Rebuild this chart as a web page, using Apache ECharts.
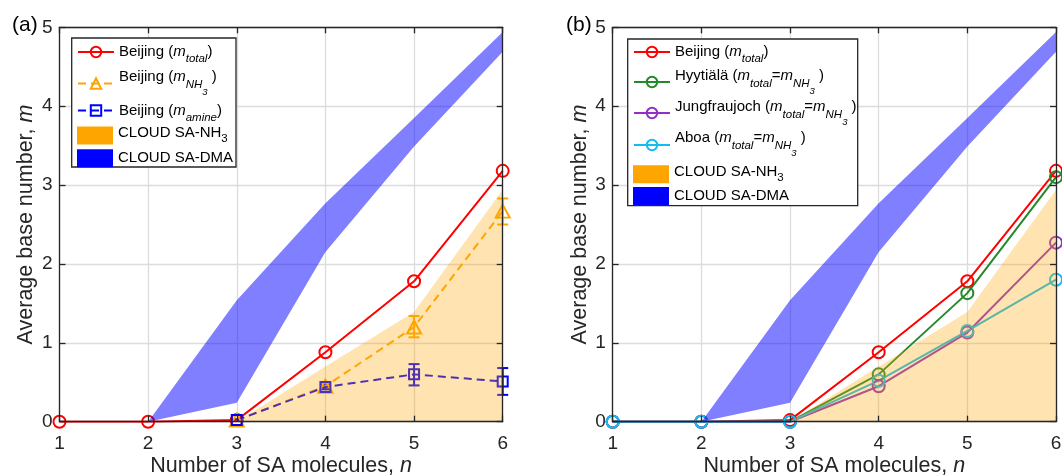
<!DOCTYPE html>
<html>
<head>
<meta charset="utf-8">
<script src="https://cdn.jsdelivr.net/npm/echarts@6/dist/echarts.min.js"></script>
<style>
  html, body { margin: 0; padding: 0; background: #fff; }
  #chart { width: 1062px; height: 475px; }
</style>
</head>
<body>
<div id="chart"></div>
<script>
// data
const cats = ['1', '2', '3', '4', '5', '6'];
const beijingTotal = [0, 0, 0.02, 0.88, 1.78, 3.18];
const beijingNH3 = [null, null, 0.02, 0.45, 1.2, 2.67];
const nh3Low = [null, null, 0.01, 0.42, 1.07, 2.5];
const nh3High = [null, null, 0.03, 0.48, 1.34, 2.83];
const beijingAmine = [null, null, 0.02, 0.44, 0.6, 0.51];
const amineLow = [null, null, 0.01, 0.41, 0.46, 0.34];
const amineHigh = [null, null, 0.03, 0.47, 0.73, 0.68];
const hyytiala = [0, 0, 0, 0.6, 1.63, 3.1];
const jungfraujoch = [0, 0, 0, 0.45, 1.13, 2.27];
const aboa = [0, 0, 0, 0.52, 1.15, 1.8];
const cloudNH3Upper = [null, null, 0, 0.7, 1.39, 2.94];
const cloudDMALower = [null, 0, 0.24, 2.15, 3.49, 4.69];
const cloudDMAUpper = [null, 0, 1.54, 2.77, 3.85, 4.94];
const yTicks = { min: 0, max: 5, interval: 1 };

const FONT = "'Liberation Sans', Arial, Helvetica, sans-serif";
const AX = '#262626';
const GRIDC = '#dcdcdc';

const chart = echarts.init(document.getElementById('chart'));

// ---- axes (one set per panel: labelled axes, box axes, split lines) ----
function xAxes(gi) {
  const base = { gridIndex: gi, type: 'category', data: cats, boundaryGap: false };
  const line = { onZero: false, lineStyle: { color: AX, width: 1.3 } };
  const tick = { inside: true, length: 6, interval: 0, lineStyle: { color: AX, width: 1.3 } };
  return [
    Object.assign({}, base, {
      position: 'bottom', z: 10, axisLine: line, axisTick: tick,
      axisLabel: { interval: 0, margin: 13, fontSize: 19, color: AX, fontFamily: FONT },
      splitLine: { show: false },
      name: '{t|Number of SA molecules, }{i|n}', nameLocation: 'middle', nameGap: 33,
      nameMoveOverlap: false,
      nameTextStyle: { rich: {
        t: { fontSize: 21.5, color: AX, fontFamily: FONT },
        i: { fontSize: 21.5, color: AX, fontFamily: FONT, fontStyle: 'italic' }
      } }
    }),
    Object.assign({}, base, {
      position: 'top', z: 10, axisLine: line, axisTick: tick,
      axisLabel: { show: false }, splitLine: { show: false }
    }),
    Object.assign({}, base, {
      position: 'bottom', z: 0, axisLine: { show: false, onZero: false }, axisTick: { show: false },
      axisLabel: { show: false },
      splitLine: { show: true, interval: 0, lineStyle: { color: GRIDC, width: 1.3 } }
    })
  ];
}
function yAxes(gi) {
  const base = Object.assign({ gridIndex: gi, type: 'value' }, yTicks);
  const line = { show: true, onZero: false, lineStyle: { color: AX, width: 1.3 } };
  const tick = { show: true, inside: true, length: 6, lineStyle: { color: AX, width: 1.3 } };
  return [
    Object.assign({}, base, {
      position: 'left', z: 10, axisLine: line, axisTick: tick,
      axisLabel: { margin: 7, fontSize: 19, color: AX, fontFamily: FONT },
      splitLine: { show: false },
      name: '{t|Average base number, }{i|m}', nameLocation: 'middle', nameGap: 22,
      nameTextStyle: { rich: {
        t: { fontSize: 21.5, color: AX, fontFamily: FONT },
        i: { fontSize: 21.5, color: AX, fontFamily: FONT, fontStyle: 'italic' }
      } }
    }),
    Object.assign({}, base, {
      position: 'right', z: 10, axisLine: line, axisTick: tick,
      axisLabel: { show: false }, splitLine: { show: false }
    }),
    Object.assign({}, base, {
      position: 'left', z: 0, axisLine: { show: false, onZero: false }, axisTick: { show: false },
      axisLabel: { show: false },
      splitLine: { show: true, lineStyle: { color: GRIDC, width: 1.3 } }
    })
  ];
}

// ---- series helpers ----
function lineSeries(name, data, color, ai, opts) {
  opts = opts || {};
  return {
    name: name, type: 'line', xAxisIndex: ai, yAxisIndex: ai, data: data, z: 2,
    symbol: opts.symbol || 'circle', symbolSize: opts.size || 12,
    itemStyle: { color: 'rgba(0,0,0,0)', borderColor: color, borderWidth: 2 },
    lineStyle: { color: color, width: 2, type: opts.dash || 'solid' },
    emphasis: { disabled: true }
  };
}
function errorBars(lo, hi, color, ai) {
  return {
    type: 'custom', xAxisIndex: ai, yAxisIndex: ai, z: 2, silent: true,
    data: cats.map((c, i) => [c, lo[i], hi[i]]).filter(d => d[1] != null),
    encode: { x: 0, y: [1, 2] },
    renderItem: function (params, api) {
      const x = api.value(0);
      const p1 = api.coord([x, api.value(1)]);
      const p2 = api.coord([x, api.value(2)]);
      const w = 5.5;
      const style = { stroke: color, lineWidth: 2 };
      return { type: 'group', children: [
        { type: 'line', shape: { x1: p1[0], y1: p1[1], x2: p2[0], y2: p2[1] }, style: style },
        { type: 'line', shape: { x1: p1[0] - w, y1: p1[1], x2: p1[0] + w, y2: p1[1] }, style: style },
        { type: 'line', shape: { x1: p2[0] - w, y1: p2[1], x2: p2[0] + w, y2: p2[1] }, style: style }
      ] };
    }
  };
}
function cloudSeries(ai) {
  const dmaWidth = cloudDMAUpper.map((v, i) => v == null ? null : v - cloudDMALower[i]);
  return [
    {
      name: 'CLOUD SA-NH3', type: 'line', xAxisIndex: ai, yAxisIndex: ai, data: cloudNH3Upper, z: 3,
      symbol: 'none', silent: true, itemStyle: { color: '#ffa500' },
      lineStyle: { opacity: 0 }, areaStyle: { color: '#ffa500', opacity: 0.3 }
    },
    {
      name: 'dmaBase' + ai, type: 'line', xAxisIndex: ai, yAxisIndex: ai, data: cloudDMALower, z: 3,
      stack: 'dma' + ai, symbol: 'none', silent: true, lineStyle: { opacity: 0 }
    },
    {
      name: 'CLOUD SA-DMA', type: 'line', xAxisIndex: ai, yAxisIndex: ai, data: dmaWidth, z: 3,
      stack: 'dma' + ai, symbol: 'none', silent: true, itemStyle: { color: '#0000ff' },
      lineStyle: { opacity: 0 }, areaStyle: { color: '#0000ff', opacity: 0.5 }
    }
  ];
}

// ---- legend rich text (sub/superscript offsets relative to the icon centre) ----
let styleCount = 0;
function st(L, d, size, italic) {
  const s = { fontSize: size, fontFamily: FONT, color: '#000', fontStyle: italic ? 'italic' : 'normal' };
  if (d < 0) { s.verticalAlign = 'top'; s.height = s.lineHeight = L + 2 * d; }
  else if (d > 0) { s.verticalAlign = 'bottom'; s.height = s.lineHeight = L - 2 * d; }
  else { s.verticalAlign = 'middle'; s.height = s.lineHeight = L; }
  return s;
}
function makeRow(rich, L, parts) {
  let out = '';
  parts.forEach(p => {
    const key = 's' + (styleCount++);
    rich[key] = st(L, p[1], p[2], p[3]);
    out += '{' + key + '|' + p[0] + '}';
  });
  const key = 's' + (styleCount++);
  rich[key] = st(L, 0, 15, false);
  return out + '{' + key + '| }';
}
const M = 15, S = 11.5, SS = 9.5;
function subRow(rich, L, site, sub) {
  return makeRow(rich, L, [[site + ' (', 0, M, false], ['m', 0, M, true], [sub, 7, S, true], [')', 0, M, false]]);
}
function eqRow(rich, L, site, dm, ds, dss) {
  return makeRow(rich, L, [[site + ' (', dm, M, false], ['m', dm, M, true], ['total', ds, S, true],
    ['=', dm, M, false], ['m', dm, M, true], ['NH', ds, S, true], ['3', dss, SS, true], [' )', dm, M, false]]);
}
function cloudRows(rich) {
  return {
    'CLOUD SA-NH3': makeRow(rich, 18, [['CLOUD SA-NH', -2.7, M, false], ['3', 3.8, S, false]]),
    'CLOUD SA-DMA': makeRow(rich, 18, [['CLOUD SA-DMA', 0, M, false]])
  };
}

const richA1 = {}, richA2 = {}, richB1 = {}, richB2 = {};
const labA1 = {
  'Beijing (m_total)': subRow(richA1, 34, 'Beijing', 'total'),
  'Beijing (m_NH3)': makeRow(richA1, 26, [['Beijing (', -7, M, false], ['m', -7, M, true], ['NH', 1.3, S, true],
    ['3', 9, SS, true], [' )', -7, M, false]]),
  'Beijing (m_amine)': subRow(richA1, 26, 'Beijing', 'amine')
};
const labA2 = cloudRows(richA2);
const labB1 = {
  'Beijing (m_total)': subRow(richB1, 30, 'Beijing', 'total'),
  'Hyytiälä (m_total=m_NH3)': eqRow(richB1, 30, 'Hyytiälä', -6.3, 1.3, 9),
  'Jungfraujoch (m_total=m_NH3)': eqRow(richB1, 32, 'Jungfraujoch', -6, 1.7, 9.4),
  'Aboa (m_total=m_NH3)': eqRow(richB1, 32, 'Aboa', -6.7, 1, 8.3)
};
const labB2 = cloudRows(richB2);

function legend(left, top, h, gap, names, labels, rich, icons) {
  return {
    orient: 'vertical', left: left, top: top, padding: 0, itemGap: gap,
    itemWidth: 36, itemHeight: h, selectedMode: false, z: 20,
    data: names.map(n => icons ? { name: n, icon: 'rect', itemStyle: { color: icons[n], opacity: 1 } } : n),
    formatter: n => labels[n],
    textStyle: { rich: rich, fontFamily: FONT, fontSize: M, color: '#000' }
  };
}

const red = '#ff0000', orange = '#ffa500', blue = '#0000ff';
const green = '#24892a', purple = '#9130c8', cyan = '#12bdf2';
const rectColors = { 'CLOUD SA-NH3': orange, 'CLOUD SA-DMA': blue };

const option = {
  animation: false,
  backgroundColor: '#fff',
  title: [
    { text: '(a)', left: 12, top: 15, padding: 0, textStyle: { fontSize: 21, fontWeight: 'normal', color: '#000', fontFamily: FONT } },
    { text: '(b)', left: 566, top: 15, padding: 0, textStyle: { fontSize: 21, fontWeight: 'normal', color: '#000', fontFamily: FONT } }
  ],
  grid: [
    { left: 59.5, top: 27.3, width: 443.2, height: 394.4, outerBoundsMode: 'none' },
    { left: 612.7, top: 27.3, width: 443.3, height: 394.4, outerBoundsMode: 'none' }
  ],
  xAxis: xAxes(0).concat(xAxes(1)),
  yAxis: yAxes(0).concat(yAxes(1)),
  graphic: [
    { type: 'rect', z: 10, shape: { x: 71.7, y: 38, width: 164.3, height: 129 }, style: { fill: '#fff', stroke: AX, lineWidth: 1.3 } },
    { type: 'rect', z: 10, shape: { x: 627.7, y: 39, width: 230, height: 166.7 }, style: { fill: '#fff', stroke: AX, lineWidth: 1.3 } }
  ],
  legend: [
    legend(77, 35, 13, 0, Object.keys(labA1), labA1, richA1),
    legend(77, 125.3, 18, 4, Object.keys(labA2), labA2, richA2, rectColors),
    legend(633, 37, 13, 0, Object.keys(labB1), labB1, richB1),
    legend(633, 164, 18, 3, Object.keys(labB2), labB2, richB2, rectColors)
  ],
  series: [
    // panel (a)
    lineSeries('Beijing (m_total)', beijingTotal, red, 0),
    errorBars(nh3Low, nh3High, orange, 0),
    lineSeries('Beijing (m_NH3)', beijingNH3, orange, 0, { symbol: 'triangle', size: [14, 13], dash: [8, 5] }),
    errorBars(amineLow, amineHigh, blue, 0),
    lineSeries('Beijing (m_amine)', beijingAmine, blue, 0, { symbol: 'rect', size: 10, dash: [8, 5] })
  ].concat(cloudSeries(0)).concat([
    // panel (b)
    lineSeries('Beijing (m_total)', beijingTotal, red, 3),
    lineSeries('Hyytiälä (m_total=m_NH3)', hyytiala, green, 3),
    lineSeries('Jungfraujoch (m_total=m_NH3)', jungfraujoch, purple, 3),
    lineSeries('Aboa (m_total=m_NH3)', aboa, cyan, 3)
  ]).concat(cloudSeries(3))
};

chart.setOption(option);
</script>
</body>
</html>
